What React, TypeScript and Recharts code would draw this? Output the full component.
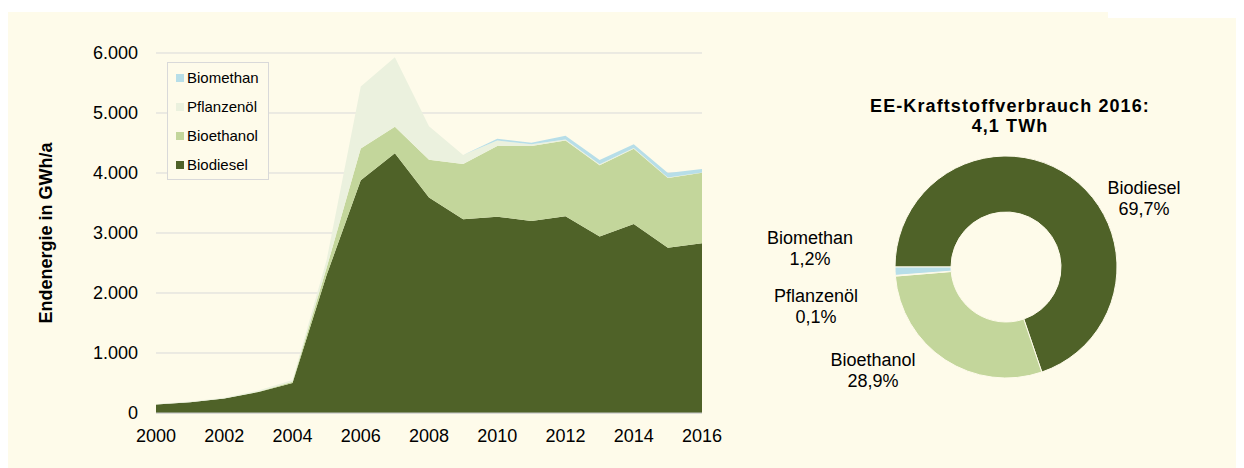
import {
  AreaChart,
  Area,
  XAxis,
  YAxis,
  CartesianGrid,
  Legend,
  PieChart,
  Pie,
  Cell,
} from 'recharts';

const FONT = '"Liberation Sans", Arial, sans-serif';
const BG = '#fefbea';

// Endenergie in GWh/a
const years = [2000, 2001, 2002, 2003, 2004, 2005, 2006, 2007, 2008, 2009, 2010, 2011, 2012, 2013, 2014, 2015, 2016];
const biodiesel = [140, 180, 240, 350, 500, 2300, 3880, 4330, 3590, 3230, 3270, 3200, 3280, 2940, 3150, 2755, 2830];
const bioethanol = [0, 0, 0, 5, 20, 120, 530, 440, 630, 920, 1180, 1250, 1260, 1190, 1255, 1160, 1175];
const pflanzenoel = [10, 10, 15, 20, 30, 130, 1030, 1160, 560, 150, 90, 30, 20, 15, 10, 10, 5];
const biomethan = [0, 0, 0, 0, 0, 0, 0, 0, 0, 0, 30, 25, 60, 70, 65, 75, 55];

const yTicks = [0, 1000, 2000, 3000, 4000, 5000, 6000];
const xTicks = [2000, 2002, 2004, 2006, 2008, 2010, 2012, 2014, 2016];

// legend reads top-down, opposite to the stacking order
const legendOrder = ['Biomethan', 'Pflanzenöl', 'Bioethanol', 'Biodiesel'];

// shares 2016 in %
const pieNames = ['Biodiesel', 'Bioethanol', 'Pflanzenöl', 'Biomethan'];
const pieShares = [69.7, 28.9, 0.1, 1.2];

const COLORS: Record<string, string> = {
  Biodiesel: '#4f6228',
  Bioethanol: '#c3d69b',
  'Pflanzenöl': '#ebf1de',
  Biomethan: '#b7dee8',
};

// where each pie label sits, relative to the pie centre
const labelOffsets: Record<string, [number, number]> = {
  Biodiesel: [138, -69],
  Bioethanol: [-133, 103],
  'Pflanzenöl': [-190, 39],
  Biomethan: [-196, -19],
};

const areaData = years.map((year, i) => ({
  year,
  Biodiesel: biodiesel[i],
  Bioethanol: bioethanol[i],
  'Pflanzenöl': pflanzenoel[i],
  Biomethan: biomethan[i],
}));

const pieData = pieNames.map((name, i) => ({ name, value: pieShares[i] }));

function formatThousands(v: number): string {
  return String(v).replace(/\B(?=(\d{3})+(?!\d))/g, '.');
}

function AxisTitle(props: any) {
  const vb = props.viewBox || { x: 0, y: 53, height: 360 };
  const x = vb.x + 46;
  const y = vb.y + vb.height / 2;
  return (
    <text
      x={x}
      y={y}
      transform={`rotate(-90 ${x} ${y})`}
      textAnchor="middle"
      dominantBaseline="central"
      fontFamily={FONT}
      fontSize={18}
      fontWeight="bold"
      fill="#000"
    >
      Endenergie in GWh/a
    </text>
  );
}

function LegendBox({ payload }: any) {
  const items = legendOrder
    .map((name) => (payload || []).find((p: any) => p.value === name))
    .filter(Boolean);
  return (
    <div
      style={{
        boxSizing: 'border-box',
        width: 102,
        height: 118,
        border: '1px solid #d9d9d9',
        background: BG,
        fontFamily: FONT,
        fontSize: 15,
        color: '#000',
      }}
    >
      {items.map((item: any) => (
        <div key={item.value} style={{ height: 29, display: 'flex', alignItems: 'center', paddingLeft: 8 }}>
          <span style={{ width: 8, height: 8, background: COLORS[item.value], marginRight: 3 }} />
          {item.value}
        </div>
      ))}
    </div>
  );
}

function PieLabel(props: any) {
  const { cx, cy, name, value } = props;
  const [dx, dy] = labelOffsets[name];
  const x = cx + dx;
  const y = cy + dy;
  return (
    <text x={x} y={y} textAnchor="middle" fontFamily={FONT} fontSize={18} fill="#000">
      <tspan x={x} dy={-4}>{name}</tspan>
      <tspan x={x} dy={21}>{value.toFixed(1).replace('.', ',')}%</tspan>
    </text>
  );
}

export default function App() {
  return (
    <div style={{ position: 'relative', width: 1244, height: 468, marginLeft: -8, marginTop: -8, background: '#fff', fontFamily: FONT }}>
      <div style={{ position: 'absolute', left: 7, top: 12, width: 1237, height: 456, background: BG }} />
      <div style={{ position: 'absolute', left: 1108, top: 12, width: 136, height: 6, background: '#fff' }} />

      <div style={{ position: 'absolute', left: 0, top: 0 }}>
        <AreaChart width={740} height={468} data={areaData} margin={{ top: 53, right: 38, bottom: 25, left: 0 }}>
          <CartesianGrid vertical={false} stroke="#d9d9d9" />
          <XAxis
            dataKey="year"
            type="number"
            domain={[2000, 2016]}
            ticks={xTicks}
            height={30}
            tickLine={false}
            tickMargin={10}
            axisLine={{ stroke: '#c8c8c8' }}
            tick={{ fontSize: 18, fill: '#000', fontFamily: FONT }}
          />
          <YAxis
            type="number"
            domain={[0, 6000]}
            ticks={yTicks}
            width={156}
            tickLine={false}
            tickMargin={12}
            axisLine={false}
            tickFormatter={formatThousands}
            tick={{ fontSize: 18, fill: '#000', fontFamily: FONT }}
            label={{ content: <AxisTitle /> }}
          />
          <Legend
            layout="vertical"
            align="center"
            verticalAlign="middle"
            content={<LegendBox />}
            wrapperStyle={{ left: 167, top: 62, width: 102, height: 118 }}
          />
          <Area type="linear" dataKey="Biodiesel" stackId="1" stroke="none" fill={COLORS.Biodiesel} fillOpacity={1} isAnimationActive={false} />
          <Area type="linear" dataKey="Bioethanol" stackId="1" stroke="none" fill={COLORS.Bioethanol} fillOpacity={1} isAnimationActive={false} />
          <Area type="linear" dataKey="Pflanzenöl" stackId="1" stroke="none" fill={COLORS['Pflanzenöl']} fillOpacity={1} isAnimationActive={false} />
          <Area type="linear" dataKey="Biomethan" stackId="1" stroke="none" fill={COLORS.Biomethan} fillOpacity={1} isAnimationActive={false} />
        </AreaChart>
      </div>

      <div
        style={{
          position: 'absolute',
          left: 810,
          top: 97,
          width: 400,
          textAlign: 'center',
          fontSize: 18,
          fontWeight: 'bold',
          letterSpacing: 1.1,
          lineHeight: '19.5px',
          color: '#000',
        }}
      >
        EE-Kraftstoffverbrauch 2016:
        <br />
        4,1 TWh
      </div>

      <div style={{ position: 'absolute', left: 740, top: 117 }}>
        <PieChart width={504} height={300}>
          <Pie
            data={pieData}
            dataKey="value"
            nameKey="name"
            cx={261}
            cy={145}
            innerRadius={55}
            outerRadius={111}
            startAngle={180}
            endAngle={-180}
            stroke={BG}
            strokeWidth={1}
            label={PieLabel}
            labelLine={false}
            isAnimationActive={false}
          >
            {pieData.map((d) => (
              <Cell key={d.name} fill={COLORS[d.name]} />
            ))}
          </Pie>
        </PieChart>
      </div>
    </div>
  );
}
